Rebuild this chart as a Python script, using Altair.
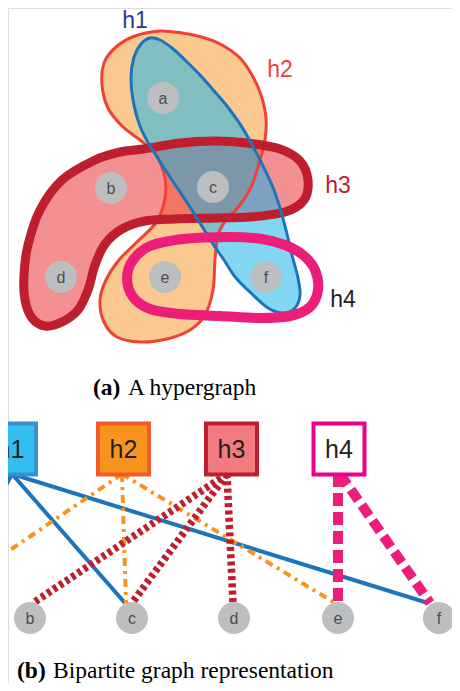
import altair as alt
import pandas as pd

# ---------------- (a) hypergraph ----------------
top_nodes = ["a", "b", "c", "d", "e", "f"]
top_node_x = [163, 111, 213, 61, 165, 266]
top_node_y = [98, 188, 187, 277, 277, 277]

# hyperedge outlines
h1_x = [150, 160, 172, 185, 200, 215, 230, 245, 260, 272, 280, 286, 292, 298, 300, 295,
        283, 268, 252, 236, 224, 213, 203, 190, 174, 157, 142, 134, 131, 134, 141]
h1_y = [38, 40, 48, 60, 75, 92, 110, 132, 160, 185, 208, 230, 255, 278, 295, 308,
        313, 308, 294, 278, 260, 244, 228, 207, 183, 157, 131, 105, 78, 57, 44]

h2_x = [160, 182, 205, 222, 240, 252, 261, 266, 265, 260, 252, 240, 226, 218, 215, 213,
        205, 190, 167, 140, 117, 104, 100, 106, 119, 138, 155, 163, 166, 163, 155, 140,
        122, 108, 102, 104, 116, 135]
h2_y = [31, 33, 38, 45, 58, 75, 95, 118, 140, 160, 185, 205, 220, 235, 260, 290,
        315, 330, 339, 342, 337, 322, 300, 280, 260, 241, 224, 207, 188, 170, 153, 140,
        126, 108, 85, 63, 47, 36]

h3_x = [143, 180, 215, 247, 280, 300, 308, 304, 285, 250, 215, 175, 145, 122, 105, 95,
        88, 78, 62, 45, 32, 25, 24, 28, 40, 62, 95, 120]
h3_y = [149, 143, 141, 143, 149, 161, 180, 200, 212, 217, 218, 219, 221, 229, 244, 265,
        290, 310, 322, 326, 318, 300, 275, 245, 210, 180, 160, 152]

h4_x = [183, 230, 262, 285, 303, 315, 318, 310, 290, 260, 220, 180, 150, 133, 127, 133, 150]
h4_y = [239, 237, 239, 245, 255, 270, 290, 307, 316, 318, 316, 314, 309, 297, 278, 260, 246]

he_names = ["h1", "h2", "h3", "h4"]
he_label_x = [135, 280, 338, 343]
he_label_y = [28, 77, 193, 307]
he_label_color = ["#2B3990", "#EF4136", "#BE1E2D", "#231F20"]

# ---------------- (b) bipartite graph ----------------
bip_nodes = ["a", "b", "c", "d", "e", "f"]
bip_node_x = [-66, 30, 132, 234, 338, 439]
bip_node_y = 618
box_x = [10.5, 123.5, 231.5, 339]
box_y = 449
box_fill = ["#33BEF0", "#F7941D", "#F37B7F", "#FFFFFF"]
box_stroke = ["#3A8FD0", "#F15A29", "#BE1E2D", "#EC008C"]

edge_src = ["h1", "h1", "h1", "h2", "h2", "h2", "h3", "h3", "h3", "h4", "h4"]
edge_tgt = ["a", "c", "f", "a", "c", "e", "b", "c", "d", "e", "f"]
edge_start_x = [12, 12, 12, 122, 122, 122, 227, 227, 227, 338, 340]
edge_end_x = [-57, 125, 428, -68, 126, 335, 33, 132, 233, 338, 430]

captions = ["(a)", "A hypergraph", "(b)", "Bipartite graph representation"]
caption_x = [93, 128, 17, 53]
caption_y = [395, 395, 678, 678]
caption_weight = ["bold", "normal", "bold", "normal"]

# ---------------- build ----------------
X = lambda f="x": alt.X(f"{f}:Q", scale=alt.Scale(domain=[8, 452], nice=False, zero=False), axis=None)
Y = lambda f="y": alt.Y(f"{f}:Q", scale=alt.Scale(domain=[8, 683], nice=False, zero=False, reverse=True), axis=None)


def shape_df(xs, ys):
    return pd.DataFrame({"x": xs, "y": ys, "i": list(range(len(xs)))})


def shape_fill(xs, ys, color, op):
    return alt.Chart(shape_df(xs, ys)).mark_line(
        interpolate="cardinal-closed", fill=color, fillOpacity=op, strokeOpacity=0, strokeWidth=0
    ).encode(x=X(), y=Y(), order="i:Q")


def shape_stroke(xs, ys, color, w):
    return alt.Chart(shape_df(xs, ys)).mark_line(
        interpolate="cardinal-closed", stroke=color, strokeWidth=w
    ).encode(x=X(), y=Y(), order="i:Q")


layers = [
    shape_fill(h2_x, h2_y, "#FAC990", 1.0),
    shape_fill(h3_x, h3_y, "#EB3338", 0.55),
    shape_fill(h1_x, h1_y, "#15B3EC", 0.53),
    shape_stroke(h2_x, h2_y, "#EF4136", 3),
    shape_stroke(h3_x, h3_y, "#BE1E2D", 9),
    shape_stroke(h1_x, h1_y, "#1C75BC", 3),
    shape_stroke(h4_x, h4_y, "#EC1E79", 10),
]

top_df = pd.DataFrame({"n": top_nodes, "x": top_node_x, "y": top_node_y})
layers.append(alt.Chart(top_df).mark_circle(size=1024, color="#BCBEC0", opacity=1).encode(x=X(), y=Y()))
layers.append(alt.Chart(top_df).mark_text(font="Liberation Sans", fontSize=16, color="#4D4D4D",
                                          baseline="middle", dy=1).encode(x=X(), y=Y(), text="n:N"))

lab_df = pd.DataFrame({"t": he_names, "x": he_label_x, "y": he_label_y, "c": he_label_color})
layers.append(alt.Chart(lab_df).mark_text(font="Liberation Sans", fontSize=23, baseline="alphabetic",
                                          align="center").encode(
    x=X(), y=Y(), text="t:N", color=alt.Color("c:N", scale=None)))

# bipartite edges
edge_df = pd.DataFrame({"src": edge_src, "tgt": edge_tgt, "x": edge_start_x, "x2": edge_end_x})
edge_styles = {
    "h1": dict(stroke="#1C75BC", strokeWidth=4),
    "h2": dict(stroke="#F7941D", strokeWidth=4, strokeDash=[8, 5, 3, 5]),
    "h3": dict(stroke="#BE1E2D", strokeWidth=7.5, strokeDash=[4, 3.3]),
    "h4": dict(stroke="#EC1E79", strokeWidth=10, strokeDash=[13, 6]),
}
for h in he_names:
    sub = edge_df[edge_df.src == h]
    layers.append(
        alt.Chart(sub).mark_rule(strokeCap="butt", **edge_styles[h])
        .transform_calculate(y="474", y2="603")
        .encode(x=X(), x2="x2:Q", y=Y(), y2="y2:Q")
    )

box_df = pd.DataFrame({"t": he_names, "cx": box_x, "f": box_fill, "s": box_stroke})
layers.append(
    alt.Chart(box_df).mark_rect(strokeWidth=4)
    .transform_calculate(x="datum.cx - 25.5", x2="datum.cx + 25.5", y=str(box_y - 25.5), y2=str(box_y + 25.5))
    .encode(x=X(), x2="x2:Q", y=Y(), y2="y2:Q",
            fill=alt.Fill("f:N", scale=None), stroke=alt.Stroke("s:N", scale=None))
)
layers.append(
    alt.Chart(box_df).mark_text(font="Liberation Sans", fontSize=25, color="#231F20",
                                baseline="alphabetic", align="center")
    .transform_calculate(y=str(box_y + 9))
    .encode(x=X("cx"), y=Y(), text="t:N")
)

bip_df = pd.DataFrame({"n": bip_nodes, "x": bip_node_x})
layers.append(alt.Chart(bip_df).mark_circle(size=1024, color="#BCBEC0", opacity=1)
              .transform_calculate(y=str(bip_node_y)).encode(x=X(), y=Y()))
layers.append(alt.Chart(bip_df).mark_text(font="Liberation Sans", fontSize=16, color="#4D4D4D",
                                          baseline="middle", dy=1)
              .transform_calculate(y=str(bip_node_y)).encode(x=X(), y=Y(), text="n:N"))

cap_df = pd.DataFrame({"t": captions, "x": caption_x, "y": caption_y, "w": caption_weight})
for wgt in ["bold", "normal"]:
    layers.append(alt.Chart(cap_df[cap_df.w == wgt]).mark_text(
        font="Liberation Serif", fontSize=23.5, color="#000000", baseline="alphabetic",
        align="left", fontWeight=wgt).encode(x=X(), y=Y(), text="t:N"))

chart = alt.layer(*layers).properties(
    width=444, height=675, padding=0, autosize=alt.AutoSizeParams(type="none")
).configure_view(strokeWidth=0, strokeOpacity=0).configure(background="white")

chart.save("out.html", embed_options={"renderer": "svg", "actions": False})
